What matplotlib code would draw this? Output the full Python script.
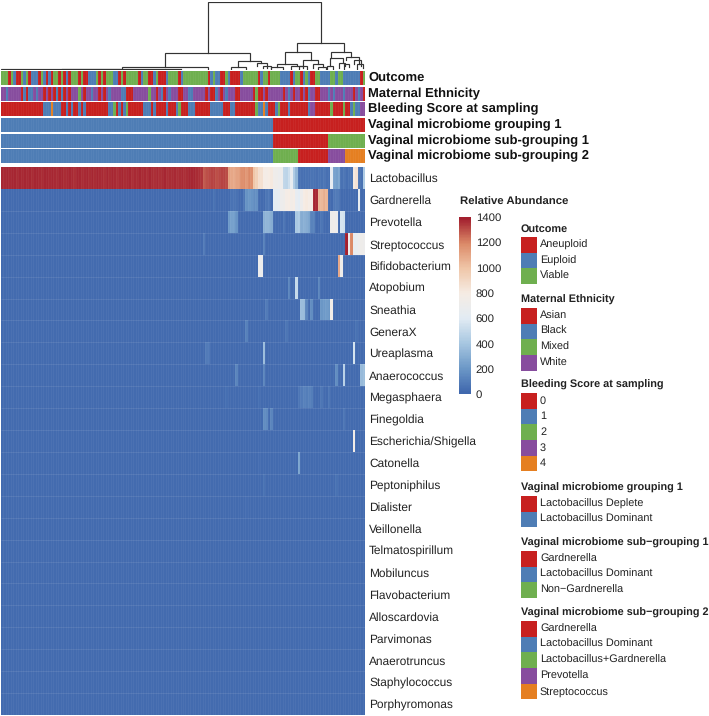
import matplotlib
matplotlib.use("Agg")
import matplotlib.pyplot as plt
import numpy as np
from matplotlib.colors import LinearSegmentedColormap, ListedColormap
from matplotlib.patches import Rectangle

plt.rcParams['font.family'] = ['Liberation Sans', 'DejaVu Sans']
plt.rcParams['text.hinting'] = 'no_hinting'

W, H = 709, 716
N_COLS = 146
RED, BLUE, GREEN, PURPLE, ORANGE = "#C7201F", "#4E7DB5", "#6FAF4F", "#874D9E", "#E57F21"
TRACK_COLORS = [RED, BLUE, GREEN, PURPLE, ORANGE]

genera = ["Lactobacillus", "Gardnerella", "Prevotella", "Streptococcus", "Bifidobacterium",
          "Atopobium", "Sneathia", "GeneraX", "Ureaplasma", "Anaerococcus", "Megasphaera",
          "Finegoldia", "Escherichia/Shigella", "Catonella", "Peptoniphilus", "Dialister",
          "Veillonella", "Telmatospirillum", "Mobiluncus", "Flavobacterium", "Alloscardovia",
          "Parvimonas", "Anaerotruncus", "Staphylococcus", "Porphyromonas"]

# lactobacillus is the only full row, the others are mostly near zero
lacto_head = [1385, 1382, 1386, 1380, 1388, 1384, 1376, 1386, 1382, 1388,
              1380, 1386, 1378, 1384, 1388, 1382, 1376, 1384, 1386, 1380,
              1388, 1382, 1374, 1384, 1386, 1378, 1382, 1388, 1380, 1372,
              1384, 1386, 1376, 1382, 1388, 1378, 1384, 1374, 1386, 1380,
              1382, 1370, 1386, 1376, 1384, 1380, 1372, 1382, 1386, 1374,
              1380, 1384, 1370, 1382, 1376, 1386, 1374, 1380, 1370, 1384,
              1378, 1368, 1382, 1372, 1376, 1384, 1368, 1378, 1374, 1382,
              1370, 1376, 1382, 1372, 1378, 1384, 1388, 1386, 1374, 1370]
lacto_tail = [1360, 1290, 1310, 1320, 1330, 1330, 1310, 1320, 1330, 1330, 1315,
              1130, 1100, 1090, 1120, 1130, 1180, 1190, 1150, 1200, 1180,
              1000, 950, 870, 860, 790, 780, 800, 820,
              730, 720, 690, 700, 480, 470, 520, 650, 420, 320,
              40, 35, 30, 40, 35, 50, 40, 35, 45, 40, 55, 35, 30,
              640, 240, 220, 250, 40, 60, 30, 45, 50, 820, 850, 60, 40, 420]

gardnerella = {85: 40, 92: 45, 93: 50, 94: 40, 97: 60, 98: 170, 99: 190, 100: 180, 101: 150,
               102: 160, 106: 60, 107: 70, 109: 600, 110: 620, 111: 640, 112: 700, 113: 720,
               114: 780, 115: 800, 116: 760, 117: 790, 118: 640, 119: 600, 120: 700, 121: 800,
               122: 810, 123: 790, 124: 780, 125: 1390, 126: 1380, 127: 1060, 128: 1040,
               129: 1080, 130: 1050, 133: 70, 134: 80, 135: 60, 143: 650}
prevotella = {91: 200, 92: 230, 93: 220, 94: 180, 105: 300, 106: 320, 107: 310, 108: 280,
              113: 60, 118: 400, 119: 420, 120: 280, 121: 300, 122: 280, 123: 250, 124: 110,
              125: 100, 128: 60, 132: 720, 133: 740, 134: 700, 136: 560, 137: 540}
streptococcus = {81: 80, 105: 100, 138: 1400, 139: 700, 140: 1200, 141: 640, 142: 660, 143: 700,
                 144: 720, 145: 700}
bifidobacterium = {103: 700, 104: 690, 135: 1100, 136: 720}
atopobium = {115: 120, 118: 500, 127: 120}
sneathia = {106: 80, 120: 350, 121: 340, 122: 120, 124: 150, 128: 190, 129: 200, 130: 210,
            131: 190, 132: 750}
generax = {98: 100, 114: 60, 142: 40}
ureaplasma = {82: 80, 83: 70, 105: 350, 141: 550}
anaerococcus = {94: 120, 105: 120, 134: 150, 137: 450, 144: 340, 145: 360}
megasphaera = {90: 30, 103: 30, 119: 60, 120: 80, 121: 100, 122: 90, 123: 100, 124: 90, 128: 60,
               131: 60}
finegoldia = {105: 150, 106: 140, 108: 120, 137: 60}
escherichia = {141: 760}
catonella = {103: 25, 119: 250}
peptoniphilus = {105: 40, 134: 40}
dialister = {98: 25}
sparse_rows = [gardnerella, prevotella, streptococcus, bifidobacterium, atopobium, sneathia,
               generax, ureaplasma, anaerococcus, megasphaera, finegoldia, escherichia,
               catonella, peptoniphilus, dialister, {}, {}, {}, {}, {}, {}, {}, {}, {}]

# annotation tracks, sample positions per class (the rest is the default class)
outcome_aneuploid = [3, 6, 7, 11, 15, 18, 20, 23, 25, 27, 31, 33, 34, 39, 41, 47, 49, 55, 59, 60,
                     63, 64, 65, 71, 83, 88, 89, 92, 93, 94, 95, 103, 107, 116, 120, 124, 125, 144]
outcome_euploid = [5, 9, 12, 13, 14, 17, 19, 26, 35, 36, 37, 45, 46, 56, 61, 66, 72, 84, 86, 87,
                   91, 96, 104, 112, 113, 114, 115, 117, 121, 123, 128, 129, 130, 131, 134,
                   137, 138, 139, 140, 141, 142, 143]
ethnicity_asian = [8, 10, 17, 19, 21, 23, 25, 27, 33, 39, 41, 50, 51, 52, 62, 65, 71, 72, 82, 84,
                   85, 88, 94, 95, 101, 103, 104, 106, 113, 117, 120, 122, 126, 127, 141, 145]
ethnicity_black = [2, 9, 11, 12, 14, 22, 24, 36, 43, 48, 49, 64, 67, 75, 76, 86, 90, 115, 123,
                   131, 133, 137, 143]
ethnicity_mixed = [31, 59, 102]
bleeding_1 = [17, 18, 19, 21, 22, 23, 26, 28, 31, 33, 43, 44, 47, 49, 57, 58, 59, 61, 66, 70, 75,
              76, 77, 84, 85, 86, 87, 88, 92, 93, 103, 104, 106, 110, 115, 123, 140, 142, 143]
bleeding_2 = [45, 50, 71, 102, 111, 132, 137, 141]
bleeding_3 = [124, 125, 144, 145]
bleeding_4 = [20, 105]
n_dominant = 109
subgroup1_counts = [109, 22, 15]  # dominant, gardnerella, non-gardnerella
subgroup2_counts = [109, 10, 12, 7, 8]  # dominant, lacto+gard, gardnerella, prevotella, strep

track_names = ["Outcome", "Maternal Ethnicity", "Bleeding Score at sampling",
               "Vaginal microbiome grouping 1", "Vaginal microbiome sub-grouping 1",
               "Vaginal microbiome sub-grouping 2"]
track_tops = [71, 87, 102, 118, 134, 149]

legend_titles = ["Outcome", "Maternal Ethnicity", "Bleeding Score at sampling",
                 "Vaginal microbiome grouping 1", "Vaginal microbiome sub\u2212grouping 1",
                 "Vaginal microbiome sub\u2212grouping 2"]
legend_labels = [["Aneuploid", "Euploid", "Viable"],
                 ["Asian", "Black", "Mixed", "White"],
                 ["0", "1", "2", "3", "4"],
                 ["Lactobacillus Deplete", "Lactobacillus Dominant"],
                 ["Gardnerella", "Lactobacillus Dominant", "Non\u2212Gardnerella"],
                 ["Gardnerella", "Lactobacillus Dominant", "Lactobacillus+Gardnerella",
                  "Prevotella", "Streptococcus"]]
legend_title_y = [229, 300, 385, 488, 543, 613]
legend_top_y = [237, 308, 393, 496, 551, 621]

cbar_ticks = [0, 200, 400, 600, 800, 1000, 1200, 1400]
cbar_colors = ["#4068AE", "#6E9AC8", "#A9C8E2", "#E3ECF4", "#F6ECE4", "#F0C6A8", "#DC8A68", "#A3202F"]

# dendrogram links: left and right column, height, drop height of each child
link_left = [83.0, 65.6, 48.4, 24.4, 0.0, 95.2, 92.4, 102.8, 105.2, 118.8, 114.0, 110.8, 121.2,
             132.4, 132.0, 138.4, 141.6, 135.6, 130.8, 108.4, 116.4, 125.0, 119.6, 127.2, 137.6, 142.8]
link_right = [128.4, 100.0, 83.0, 72.0, 48.0, 104.4, 98.4, 106.8, 108.4, 137.6, 124.4, 118.8, 127.2,
              140.4, 137.0, 143.6, 144.4, 138.0, 133.2, 113.2, 121.2, 129.0, 122.8, 130.4, 139.6, 145.2]
link_height = [68, 17, 3, 1.2, 0.6, 9.5, 3, 7, 4, 27.5, 18, 6.5, 10,
               18, 12, 13, 10, 7, 4, 3, 4, 6, 4, 3, 6, 6]
link_drop_l = [17, 3, 1.2, 0.6, 0, 3, 1, 4, 2, 18, 6.5, 3, 4,
               12, 4, 10, 6, 2, 1, 1, 1, 2, 1, 1, 1, 1]
link_drop_r = [27.5, 9.5, 1, 0.6, 0.3, 7, 1, 2, 2, 18, 10, 4, 6,
               13, 7, 6, 4, 4, 1, 1, 2, 3, 1, 1, 3, 2]


def px_axes(x0, y0, x1, y1):
    # axes from pixel box, y counted from the top like the reference
    return fig.add_axes([x0 / W, 1 - y1 / H, (x1 - x0) / W, (y1 - y0) / H])


def clean(ax):
    ax.set_xticks([])
    ax.set_yticks([])
    for spine in ax.spines.values():
        spine.set_visible(False)


def cell_lines(ax, n_rows, alpha_v):
    # the faint lighter seams between cells
    ax.vlines(np.arange(1, N_COLS), 0, n_rows, color="white", lw=0.6, alpha=alpha_v)


fig = plt.figure(figsize=(W / 100, H / 100), dpi=100)

# heatmap
matrix = np.full((len(genera), N_COLS), 12.0)
matrix[0] = lacto_head + lacto_tail
for i, row in enumerate(sparse_rows):
    for col, val in row.items():
        matrix[i + 1, col] = val
cmap = LinearSegmentedColormap.from_list("abund", list(zip(np.array(cbar_ticks) / 1400, cbar_colors)))
ax = px_axes(1, 167, 365, 715)
ax.pcolormesh(matrix, cmap=cmap, vmin=0, vmax=1400)
cell_lines(ax, len(genera), 0.05)
ax.hlines(np.arange(2, len(genera)), 0, N_COLS, color="white", lw=0.6, alpha=0.1)
ax.set_xlim(0, N_COLS)
ax.set_ylim(len(genera), 0)
clean(ax)
ax.set_yticks(np.arange(len(genera)) + 0.5)
ax.set_yticklabels(genera, fontsize=8.6, color="#222222")
ax.yaxis.tick_right()
ax.tick_params(axis="y", length=0, pad=3)

# annotation tracks
outcome = np.full(N_COLS, 2)
outcome[outcome_aneuploid] = 0
outcome[outcome_euploid] = 1
ethnicity = np.full(N_COLS, 3)
ethnicity[ethnicity_asian] = 0
ethnicity[ethnicity_black] = 1
ethnicity[ethnicity_mixed] = 2
bleeding = np.zeros(N_COLS, dtype=int)
bleeding[bleeding_1] = 1
bleeding[bleeding_2] = 2
bleeding[bleeding_3] = 3
bleeding[bleeding_4] = 4
grouping1 = np.repeat([1, 0], [n_dominant, N_COLS - n_dominant])
subgroup1 = np.repeat([1, 0, 2], subgroup1_counts)
subgroup2 = np.repeat([1, 2, 0, 3, 4], subgroup2_counts)
tracks = [outcome, ethnicity, bleeding, grouping1, subgroup1, subgroup2]
track_cmap = ListedColormap(TRACK_COLORS)
for track, name, top in zip(tracks, track_names, track_tops):
    tax = px_axes(1, top, 365, top + 14)
    tax.pcolormesh(track.reshape(1, -1), cmap=track_cmap, vmin=-0.5, vmax=4.5)
    cell_lines(tax, 1, 0.05)
    tax.set_xlim(0, N_COLS)
    tax.set_ylim(0, 1)
    clean(tax)
    tax.annotate(name, xy=(1, 0.5), xycoords="axes fraction", xytext=(2.2, 0),
                 textcoords="offset points", ha="left", va="center",
                 fontsize=9.4, fontweight="bold", color="#111111")

# dendrogram
dax = px_axes(1, 2, 365, 70)
for xl, xr, h, dl, dr in zip(link_left, link_right, link_height, link_drop_l, link_drop_r):
    dax.plot([xl, xl, xr, xr], [dl, h, h, dr], color="#333333", lw=0.85, solid_joinstyle="miter")
dax.set_xlim(0, N_COLS)
dax.set_ylim(0, 68)
clean(dax)
dax.patch.set_alpha(0)

# colour bar
cax = px_axes(459, 217, 471, 394)
gradient = np.linspace(0, 1400, 60).reshape(-1, 1)
cax.imshow(gradient, aspect="auto", cmap=cmap, origin="lower", extent=[0, 1, 0, 1400])
clean(cax)
cax.set_yticks(cbar_ticks)
cax.yaxis.tick_right()
cax.tick_params(axis="y", length=0, pad=3.5, labelsize=8.2, labelcolor="#222222")

# legends live on a full figure overlay in pixel units
lax = fig.add_axes([0, 0, 1, 1])
lax.set_xlim(0, W)
lax.set_ylim(H, 0)
lax.axis("off")
lax.patch.set_alpha(0)
lax.text(460, 202, "Relative Abundance", fontsize=8.2, fontweight="bold", va="center", color="#222222")
row_h = 15.67
for title, labels, ty, ly in zip(legend_titles, legend_labels, legend_title_y, legend_top_y):
    lax.text(521, ty, title, fontsize=7.85, fontweight="bold", va="center", color="#222222")
    for k, lab in enumerate(labels):
        lax.add_patch(Rectangle((521, ly + k * row_h), 15.5, row_h, facecolor=TRACK_COLORS[k],
                                edgecolor="none"))
        lax.text(540, ly + (k + 0.5) * row_h, lab, fontsize=7.8, va="center", color="#222222")

fig.savefig("out.png", dpi=100)
